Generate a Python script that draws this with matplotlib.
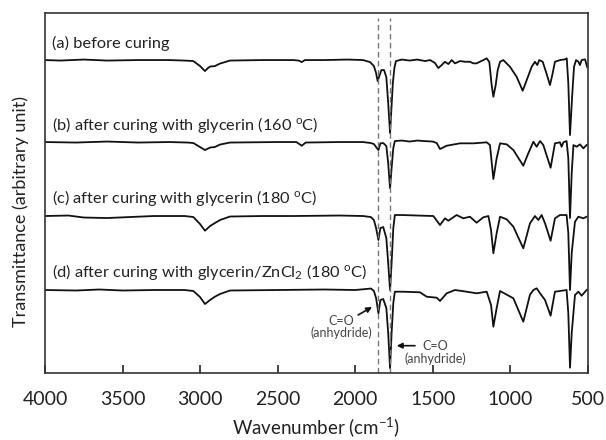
import numpy as np
from matplotlib import pyplot as plt

plt.rcParams['font.family'] = ['Lato', 'DejaVu Sans']

# Spektrai: bangos skaicius (cm-1) ir pralaidumas (laisvi vienetai, jau su poslinkiu)
wn_a = [4000, 3900, 3750, 3600, 3400, 3200, 3100, 3044, 3001, 2969, 2950, 2936, 2905, 2872,
        2808, 2600, 2400, 2365, 2345, 2325, 2200, 2050, 1950, 1905, 1880, 1866, 1856, 1845,
        1832, 1815, 1800, 1788, 1776, 1768, 1758, 1748, 1738, 1700, 1650, 1600, 1550, 1518,
        1486, 1465, 1443, 1422, 1400, 1379, 1357, 1325, 1293, 1261, 1239, 1218, 1175, 1153,
        1136, 1121, 1110, 1095, 1082, 1067, 1046, 1003, 960, 921, 895, 863, 842, 827, 814,
        792, 771, 745, 728, 713, 680, 648, 637, 627, 616, 601, 590, 577, 562, 552, 541, 519, 505]
t_a = [313, 312.5, 313.5, 312.5, 313, 313, 312.5, 312, 307, 302, 305, 306.5, 307, 309.5,
       312.5, 313, 313, 312.5, 311, 313, 313, 313.5, 313, 311, 307, 300, 292, 297,
       303, 303, 296, 270, 240, 262, 290, 305, 312, 313.5, 312.5, 313.5, 312, 313,
       310, 305, 308, 311.3, 309, 313, 309.7, 312, 311.3, 311.3, 309.7, 309.7, 313, 314.7,
       311, 288, 276.3, 288, 303, 311.3, 313, 306.3, 296.3, 282.3, 293, 306.3, 311.3, 308, 313,
       311.3, 301.3, 288, 299.7, 311.3, 313, 313.7, 314.7, 290, 238, 280, 306.3, 313, 311.3, 308, 313, 313.7, 306]

wn_b = [4000, 3800, 3600, 3400, 3200, 3080, 3044, 3001, 2969, 2936, 2905, 2872, 2808, 2500,
        2380, 2345, 2320, 2100, 1950, 1900, 1880, 1866, 1851, 1838, 1820, 1800, 1788, 1776,
        1766, 1755, 1745, 1700, 1650, 1600, 1560, 1500, 1475, 1454, 1411, 1325, 1239, 1153,
        1132, 1110, 1089, 1067, 1024, 981, 917, 885, 852, 831, 809, 788, 741, 713, 681, 670,
        659, 638, 627, 616, 605, 594, 573, 552, 530, 509]
t_b = [231, 230.5, 231.5, 230.5, 231, 230.5, 230, 226, 223, 225.5, 226, 228.5, 230.5, 231,
       231, 227.3, 230.5, 231, 231, 230, 229, 226, 223, 229.7, 230, 227, 210, 184.7,
       205, 225, 232, 232.5, 231.5, 232.5, 232, 231.5, 230, 224, 227.3, 229.7, 229.7, 230.7,
       228, 194, 214.7, 229.7, 228.7, 223, 207.3, 219.7, 231.3, 226.3, 232, 228, 205.3, 229.7, 230.7, 226.3,
       230.7, 232, 215, 155, 200, 228, 226.3, 228.7, 224.7, 228]

wn_c = [4000, 3850, 3750, 3600, 3450, 3300, 3100, 3044, 3001, 2969, 2936, 2905, 2872, 2808,
        2600, 2400, 2100, 1950, 1900, 1880, 1866, 1851, 1838, 1820, 1800, 1788, 1776, 1766,
        1755, 1745, 1700, 1600, 1497, 1454, 1422, 1400, 1347, 1304, 1261, 1218, 1175, 1142,
        1125, 1110, 1089, 1067, 1024, 981, 917, 874, 842, 820, 799, 777, 741, 713, 681, 638,
        627, 616, 605, 584, 562, 530, 509]
t_c = [157, 157.5, 155.5, 155, 156, 157, 157, 156, 149, 142.3, 147, 150, 153, 156.5,
       157, 157, 157.5, 157, 156, 153, 145, 133, 145, 146, 135, 110, 83, 110,
       145, 158, 158, 157.5, 157, 148, 154.7, 152.3, 158, 154.7, 156.3, 150.3, 155.7, 157,
       143, 119.7, 139.7, 156.3, 153.7, 146.3, 124.7, 149.7, 157, 153, 158, 149.7, 132.3, 154.7, 158, 158,
       140, 83, 120, 151.3, 156.3, 154.7, 156.3]

wn_d = [4000, 3800, 3650, 3500, 3300, 3100, 3044, 3001, 2969, 2936, 2905, 2872, 2808, 2500,
        2200, 2000, 1930, 1900, 1880, 1866, 1851, 1838, 1820, 1800, 1788, 1776, 1766, 1755,
        1745, 1690, 1583, 1540, 1475, 1454, 1411, 1357, 1282, 1218, 1153, 1125, 1110, 1089,
        1067, 981, 917, 874, 852, 831, 809, 777, 741, 713, 681, 638, 627, 616, 605, 584,
        562, 541, 509]
t_d = [83, 82.5, 83.5, 82.5, 83, 83, 82, 76, 69, 73, 76.3, 79, 82.5, 83,
       83.5, 83, 84, 84.5, 82, 75, 59.7, 73, 74, 65, 40, 4.7, 40, 70,
       81.3, 81.3, 80.7, 76.3, 75.3, 72, 79.7, 83, 81.3, 79.7, 81.3, 68, 46.3, 64.7,
       82, 74.7, 51.3, 78.3, 83, 84.7, 79.7, 73, 57.3, 81.3, 82, 83, 60, 5.3, 40, 78,
       81.3, 77.3, 83]

labels = ['(a) before curing',
          '(b) after curing with glycerin (160 $\\mathregular{^{o}}$C)',
          '(c) after curing with glycerin (180 $\\mathregular{^{o}}$C)',
          '(d) after curing with glycerin/ZnCl$\\mathregular{_2}$ (180 $\\mathregular{^{o}}$C)']
label_y = [330, 248, 175, 101]
co_lines = [1852, 1775]  # C=O (anhidridas)
xticks = [4000, 3500, 3000, 2500, 2000, 1500, 1000, 500]

fig = plt.figure(figsize=(6.06, 4.40), dpi=100)
ax = fig.add_axes([0.0743, 0.1523, 0.896, 0.818])

for wn, t in [(wn_a, t_a), (wn_b, t_b), (wn_c, t_c), (wn_d, t_d)]:
    ax.plot(wn, t, color='#111111', lw=1.3, solid_joinstyle='round')

for w in co_lines:
    ax.axvline(w, ymin=0, ymax=0.986, color='#777777', lw=1.0, ls=(0, (4, 2.5)))

for txt, y in zip(labels, label_y):
    ax.text(3955, y, txt, fontsize=11.8, color='#222222', va='center', ha='left')

# Rodykles
ax.annotate('', xy=(1892, 66), xytext=(1982, 58),
            arrowprops=dict(arrowstyle='-|>', color='#111111', lw=1.2,
                            mutation_scale=8, shrinkA=0, shrinkB=0))
ax.text(2092, 46, 'C=O\n(anhydride)', fontsize=9, color='#444444',
        ha='center', va='center', linespacing=0.95)
ax.annotate('', xy=(1733, 27.3), xytext=(1615, 27.3),
            arrowprops=dict(arrowstyle='-|>', color='#111111', lw=1.2,
                            mutation_scale=8, shrinkA=0, shrinkB=0))
ax.text(1486, 20.5, 'C=O\n(anhydride)', fontsize=9, color='#444444',
        ha='center', va='center', linespacing=0.95)

ax.set_xlim(4000, 500)
ax.set_ylim(0, 360)
ax.set_xticks(xticks)
ax.set_yticks([])
ax.tick_params(axis='x', direction='in', length=6, width=1.2, pad=13,
               labelsize=14, colors='#222222')
for s in ax.spines.values():
    s.set_color('#333333')
    s.set_linewidth(1.2)

ax.set_xlabel('Wavenumber (cm$\\mathregular{^{-1}}$)', fontsize=13.5, color='#222222', labelpad=5)
ax.set_ylabel('Transmittance (arbitrary unit)', fontsize=13, color='#222222')
ax.yaxis.set_label_coords(-0.03, 0.45)

fig.savefig('out.png', dpi=100)
